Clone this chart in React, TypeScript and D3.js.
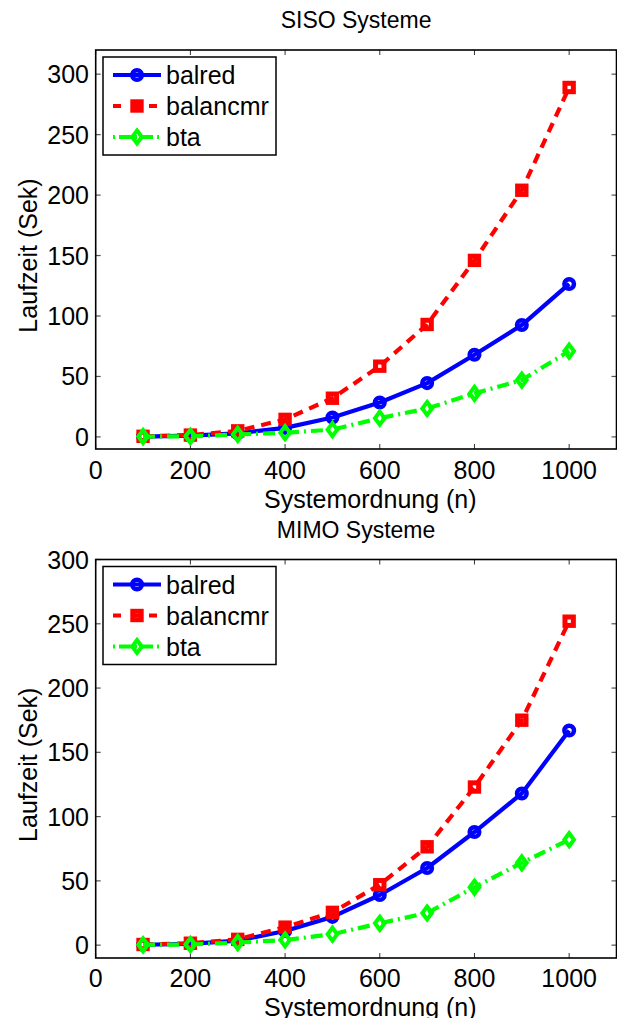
import React from "react";
import * as d3 from "d3";

const xValues = [100, 200, 300, 400, 500, 600, 700, 800, 900, 1000];
const xTicks = [0, 200, 400, 600, 800, 1000];
const yTicks = [0, 50, 100, 150, 200, 250, 300];

const sisoBalred = [0.3, 1, 3, 7.5, 16, 28.5, 44.5, 68, 92.5, 126.5];
const sisoBalancmr = [0.5, 1.5, 5, 14.5, 32, 58.5, 93, 146, 204, 289];
const sisoBta = [0.3, 0.5, 2, 3.5, 6, 15.5, 23.5, 36, 47, 71];

const mimoBalred = [0.3, 1, 3.5, 11, 22, 39, 60, 88, 118, 167];
const mimoBalancmr = [0.5, 1.5, 4.5, 14, 25.5, 47, 76.5, 123, 175, 252];
const mimoBta = [0.3, 0.5, 2, 4, 8.5, 17, 25, 45, 64, 82];

const seriesNames = ["balred", "balancmr", "bta"];
const titles = ["SISO Systeme", "MIMO Systeme"];
const xLabel = "Systemordnung (n)";
const yLabel = "Laufzeit (Sek)";

const FONT = "'Liberation Sans', Arial, Helvetica, sans-serif";
const FS = 25;

const styles = [
  { color: "#0000ff", dash: "none", marker: "circle" },
  { color: "#ff0000", dash: "10,7", marker: "square" },
  { color: "#00ff00", dash: "12,5,2,5", marker: "diamond" },
];

function Marker({ type, x, y, color }: { type: string; x: number; y: number; color: string }) {
  if (type === "circle") {
    return <circle cx={x} cy={y} r={4.8} fill="none" stroke={color} strokeWidth={4.5} />;
  }
  if (type === "square") {
    return <rect x={x - 4.2} y={y - 4.2} width={8.4} height={8.4} fill="none" stroke={color} strokeWidth={5} />;
  }
  const p = `M${x},${y - 6.5} L${x + 4.8},${y} L${x},${y + 6.5} L${x - 4.8},${y} Z`;
  return <path d={p} fill="none" stroke={color} strokeWidth={4} strokeLinejoin="miter" />;
}

function Panel({
  top,
  bottom,
  yMax,
  title,
  data,
  xLabelOffset,
  tickOffset,
}: {
  top: number;
  bottom: number;
  yMax: number;
  title: string;
  data: number[][];
  xLabelOffset: number;
  tickOffset: number;
}) {
  const left = 95.7;
  const right = 616.5;
  const x = d3.scaleLinear().domain([0, 1100]).range([left, right]);
  const y = d3.scaleLinear().domain([-10, yMax]).range([bottom, top]);
  const line = d3
    .line<[number, number]>()
    .x((d) => x(d[0]))
    .y((d) => y(d[1]));
  const tickLen = 5;
  const legTop = top + 7;
  const rowY = [legTop + 18, legTop + 49, legTop + 80];
  return (
    <g>
      <text x={(left + right) / 2} y={top - 22} textAnchor="middle" fontSize={FS - 2} fontFamily={FONT}>
        {title}
      </text>
      {xTicks.map((t) => (
        <g key={"xt" + t}>
          <line x1={x(t)} x2={x(t)} y1={bottom} y2={bottom - tickLen} stroke="#333" strokeWidth={1} />
          <line x1={x(t)} x2={x(t)} y1={top} y2={top + tickLen} stroke="#333" strokeWidth={1} />
          <text x={x(t)} y={bottom + tickOffset} textAnchor="middle" fontSize={FS} fontFamily={FONT}>
            {t}
          </text>
        </g>
      ))}
      {yTicks.map((t) => (
        <g key={"yt" + t}>
          <line x1={left} x2={left + tickLen} y1={y(t)} y2={y(t)} stroke="#555" strokeWidth={1.2} />
          <line x1={right} x2={right - tickLen} y1={y(t)} y2={y(t)} stroke="#555" strokeWidth={1.2} />
          <text x={89} y={y(t) + 9} textAnchor="end" fontSize={FS} fontFamily={FONT}>
            {t}
          </text>
        </g>
      ))}
      <rect x={left} y={top} width={right - left} height={bottom - top} fill="none" stroke="#000" strokeWidth={1.6} />
      <text x={264} y={bottom + xLabelOffset} textAnchor="start" fontSize={FS} fontFamily={FONT}>
        {xLabel}
      </text>
      <text
        transform={`translate(37,${(top + bottom) / 2 + 6}) rotate(-90)`}
        textAnchor="middle"
        fontSize={FS}
        fontFamily={FONT}
      >
        {yLabel}
      </text>
      {data.map((vals, i) => {
        const pts = xValues.map((xv, j) => [xv, vals[j]] as [number, number]);
        const s = styles[i];
        return (
          <g key={"s" + i}>
            <path
              d={line(pts) || ""}
              fill="none"
              stroke={s.color}
              strokeWidth={4.2}
              strokeDasharray={s.dash}
              strokeLinejoin="round"
            />
            {pts.map((p, j) => (
              <Marker key={j} type={s.marker} x={x(p[0])} y={y(p[1])} color={s.color} />
            ))}
          </g>
        );
      })}
      <rect x={103} y={legTop} width={173} height={98} fill="#fff" stroke="#000" strokeWidth={1.5} />
      {seriesNames.map((n, i) => {
        const s = styles[i];
        return (
          <g key={"l" + n}>
            <line
              x1={113}
              x2={161}
              y1={rowY[i]}
              y2={rowY[i]}
              stroke={s.color}
              strokeWidth={4.2}
              strokeDasharray={i === 1 ? "8,10" : i === 2 ? "2,4,12,4" : "none"}
            />
            <Marker type={s.marker} x={137} y={rowY[i]} color={s.color} />
            <text x={166} y={rowY[i] + 9} fontSize={FS} fontFamily={FONT}>
              {n}
            </text>
          </g>
        );
      })}
    </g>
  );
}

export default function App() {
  return (
    <svg
      width={617}
      height={1018}
      style={{ position: "absolute", left: 0, top: 0, background: "#fff" }}
    >
      <rect x={0} y={0} width={617} height={1018} fill="#fff" />
      <Panel top={50} bottom={449} yMax={320} title={titles[0]} data={[sisoBalred, sisoBalancmr, sisoBta]} xLabelOffset={59} tickOffset={30} />
      <Panel top={559.5} bottom={958} yMax={300} title={titles[1]} data={[mimoBalred, mimoBalancmr, mimoBta]} xLabelOffset={58} tickOffset={29} />
    </svg>
  );
}
